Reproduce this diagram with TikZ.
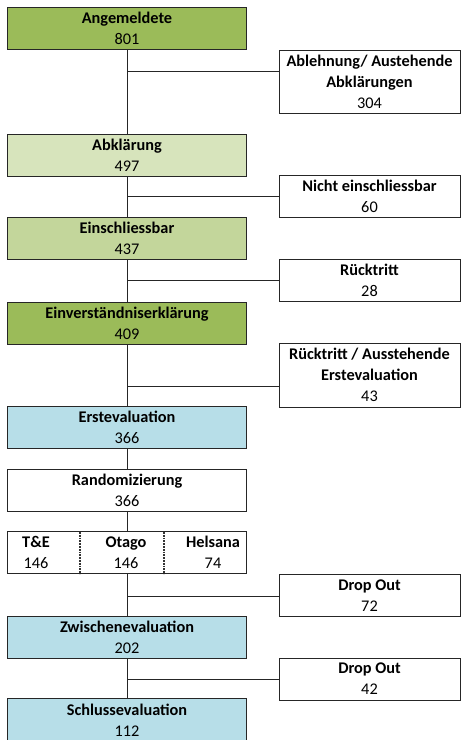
\documentclass[tikz,border=0pt]{standalone}
\usepackage{fontspec}
\setmainfont{Carlito}
\usetikzlibrary{positioning}
\definecolor{greenDark}{HTML}{9BBB59}
\definecolor{greenMid}{HTML}{C3D69B}
\definecolor{greenLight}{HTML}{D7E4BC}
\definecolor{blueBox}{HTML}{B7DEE8}

\begin{document}
\begin{tikzpicture}[
    x=1pt, y=1pt,
    box/.style={rectangle, draw=black!85, line width=1pt, align=center,
                inner sep=0pt, font=\fontsize{16.3}{21}\selectfont},
    main/.style={box, minimum width=239pt, minimum height=42pt},
    side/.style={box, fill=white, minimum width=181pt, minimum height=42pt},
    cell/.style={box, draw=none},
    line/.style={draw=black!85, line width=1pt},
    divider/.style={draw=black!80, line width=1.8pt, densely dotted}
]
\clip (0,0) rectangle (462,-740);

% Main column
\node[main, fill=greenDark] (ang) at (127,-28.5) {\textbf{Angemeldete}\\801};
\node[main, fill=greenLight] (abk) at (127,-155) {\textbf{Abklärung}\\497};
\node[main, fill=greenMid] (ein) at (127,-238) {\textbf{Einschliessbar}\\437};
\node[main, fill=greenDark] (einv) at (127,-323) {\textbf{Einverständniserklärung}\\409};
\node[main, fill=blueBox] (erst) at (127,-427) {\textbf{Erstevaluation}\\366};
\node[main, fill=white] (rand) at (127,-490.5) {\textbf{Randomizierung}\\366};
\node[main, fill=white] (grp) at (127,-552.5) {};
\node[main, fill=blueBox] (zwi) at (127,-637) {\textbf{Zwischenevaluation}\\202};
\node[main, fill=blueBox, minimum height=44pt] (schluss) at (127,-720) {\textbf{Schlussevaluation}\\112};

% Groups inside randomisation box
\node[cell] (te) at (36,-552.5) {\textbf{T\&E}\\146};
\node[cell] (otago) at (126,-552.5) {\textbf{Otago}\\146};
\node[cell] (helsana) at (213,-552.5) {\textbf{Helsana}\\74};
\coordinate (div1) at (80,-532);
\coordinate (div2) at (164,-532);
\draw[divider] (div1) -- (div1 |- grp.south);
\draw[divider] (div2) -- (div2 |- grp.south);

% Side column
\node[side, minimum height=63pt] (ablehn) at (369.5,-81.5) {\textbf{Ablehnung/ Austehende}\\\textbf{Abklärungen}\\304};
\node[side] (nichtein) at (369.5,-196) {\textbf{Nicht einschliessbar}\\60};
\node[side] (rueck) at (369.5,-280.5) {\textbf{Rücktritt}\\28};
\node[side, minimum height=64pt] (rueckerst) at (369.5,-375) {\textbf{Rücktritt / Ausstehende}\\\textbf{Erstevaluation}\\43};
\node[side] (drop1) at (369.5,-595.5) {\textbf{Drop Out}\\72};
\node[side] (drop2) at (369.5,-679) {\textbf{Drop Out}\\42};

% Trunk
\draw[line] (ang) -- (abk);
\draw[line] (abk) -- (ein);
\draw[line] (ein) -- (einv);
\draw[line] (einv) -- (erst);
\draw[line] (erst) -- (rand);
\draw[line] (rand) -- (grp);
\draw[line] (grp) -- (zwi);
\draw[line] (zwi) -- (schluss);

% Branches
\coordinate (j1) at (127,-71);
\coordinate (j2) at (127,-196);
\coordinate (j3) at (127,-280.5);
\coordinate (j4) at (127,-386);
\coordinate (j5) at (127,-596);
\coordinate (j6) at (127,-679);
\draw[line] (j1) -- (j1 -| ablehn.west);
\draw[line] (j2) -- (nichtein.west);
\draw[line] (j3) -- (rueck.west);
\draw[line] (j4) -- (j4 -| rueckerst.west);
\draw[line] (j5) -- (j5 -| drop1.west);
\draw[line] (j6) -- (drop2.west);

\end{tikzpicture}
\end{document}
